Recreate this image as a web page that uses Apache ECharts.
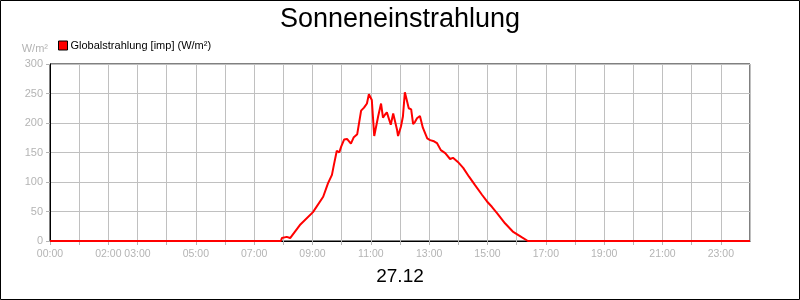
<!DOCTYPE html>
<html>
<head>
<meta charset="utf-8">
<script src="https://cdn.jsdelivr.net/npm/echarts@6/dist/echarts.min.js"></script>
<style>
html,body{margin:0;padding:0;background:#fff;}
#c{width:800px;height:300px;box-sizing:border-box;}
</style>
</head>
<body>
<div id="c"></div>
<script>
// minutes since midnight
var times = [0,475,477,481,487,494,514,541,562,572,580,584,590,595,599,605,611,619,625,632,640,646,652,656,662,667,671,675,681,685,689,693,697,701,706,708,714,716,722,726,730,734,738,743,747,751,755,761,767,776,782,790,796,804,813,823,829,839,850,862,874,889,899,909,920,936,952,971,983,1440];
var values = [0,0,5,7,7,5,27,49,75,98,112,129,153,150,160,172,173,165,176,181,221,226,233,249,239,178,181,211,233,209,214,218,216,197,216,214,188,178,194,211,252,250,225,223,198,202,208,212,192,174,171,169,166,154,149,139,141,134,124,109,95,78,67,58,47,30,16,6,0,0];
var shownHours = [0,2,3,5,7,9,11,13,15,17,19,21,23];
var yTicks = [0,50,100,150,200,250,300];
var title = 'Sonneneinstrahlung';
var dateLabel = '27.12';
var seriesName = 'Globalstrahlung [imp] (W/m²)';
var unit = 'W/m²';

var data = times.map(function(t,i){return [t, values[i]];});
var font = 'Liberation Sans, Arial, sans-serif';
var chart = echarts.init(document.getElementById('c'));
chart.setOption({
  animation:false,
  backgroundColor:'#fff',
  title:[
    {text:title,left:'center',top:1,textStyle:{fontSize:27,fontWeight:'normal',color:'#000',fontFamily:font}},
    {text:dateLabel,left:'center',top:262,textStyle:{fontSize:19,fontWeight:'normal',color:'#000',fontFamily:font}}
  ],
  legend:{
    left:53,top:35,itemWidth:9,itemHeight:9,itemGap:4,icon:'rect',
    textStyle:{fontSize:11,color:'#000',fontFamily:font,padding:[0,0,0,-2]},
    data:[{name:seriesName,itemStyle:{color:'#ff0000',borderColor:'#000',borderWidth:1}}]
  },
  graphic:[
    {type:'text',right:752,top:43,style:{text:unit,fill:'#b4b4b4',font:'11px '+font,textAlign:'right'}},
    {type:'rect',shape:{x:0.5,y:0.5,width:799,height:299},style:{fill:null,stroke:'#000',lineWidth:1},z:100}
  ],
  grid:{left:50,right:50,top:64,bottom:59,show:true,borderColor:'#000',borderWidth:1,backgroundColor:'#fff'},
  xAxis:{
    type:'value',min:0,max:1440,interval:60,
    axisLine:{show:true,lineStyle:{color:'#000',width:1}},
    axisTick:{show:true,length:4,lineStyle:{color:'#b4b4b4'}},
    splitLine:{show:true,lineStyle:{color:'#c0c0c0',width:1}},
    axisLabel:{
      color:'#b4b4b4',fontSize:10.5,fontFamily:font,margin:8,showMaxLabel:false,
      formatter:function(v){var h=Math.round(v/60);return shownHours.indexOf(h)>=0?((h<10?'0':'')+h+':00'):'';}
    }
  },
  yAxis:{
    type:'value',min:yTicks[0],max:yTicks[yTicks.length-1],interval:50,
    axisLine:{show:true,lineStyle:{color:'#000'}},
    axisTick:{show:true,length:4,lineStyle:{color:'#b4b4b4'}},
    splitLine:{show:true,lineStyle:{color:'#c0c0c0',width:1}},
    axisLabel:{color:'#b4b4b4',fontSize:11,fontFamily:font,margin:7}
  },
  series:[{
    name:seriesName,type:'line',data:data,showSymbol:false,symbol:'none',
    lineStyle:{color:'#ff0000',width:2},itemStyle:{color:'#ff0000'}
  }]
});
</script>
</body>
</html>
